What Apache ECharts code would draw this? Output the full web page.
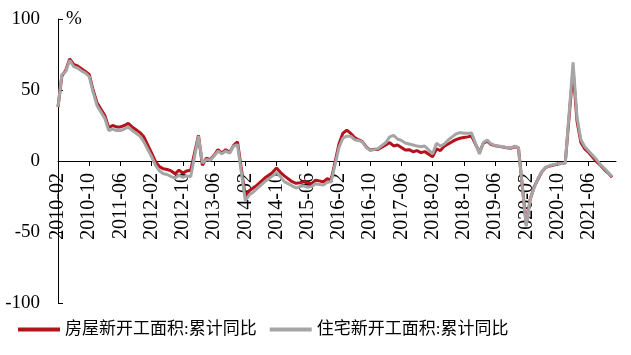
<!DOCTYPE html>
<html>
<head>
<meta charset="utf-8">
<script src="https://cdn.jsdelivr.net/npm/echarts@6/dist/echarts.min.js"></script>
<style>
  html, body { margin: 0; padding: 0; background: #fff; }
  #main { width: 631px; height: 355px; }
</style>
</head>
<body>
<div id="main"></div>
<script>
// 月份：2010-02 到 2022-01，1月无数据(1-2月合并公布)
var months = [];
for (var y = 2010; y <= 2022; y++) {
  for (var m = 1; m <= 12; m++) {
    if (y == 2010 && m < 2) continue;
    if (y == 2022 && m > 1) break;
    months.push(y + '-' + (m < 10 ? '0' + m : m));
  }
}

var seriesNames = ['房屋新开工面积:累计同比', '住宅新开工面积:累计同比'];
var yTicks = [-100, -50, 0, 50, 100];

// 房屋新开工面积:累计同比 (%)
var houseYoY = [
  38, 60, 64, 72, 68, 67, 65, 63, 61, 50, 41,                 // 2010 (2-12月)
  null, 32, 23.5, 25, 24, 24, 25, 26.5, 24, 22, 20, 17,       // 2011
  null, 5.5, -0.5, -4, -5.5, -6, -7, -9, -6.5, -8.5, -7, -6.5,  // 2012
  null, 18, -3, 2, 1, 4, 8, 5.5, 8, 6, 11, 13.5,              // 2013
  null, -25, -21, -19, -17, -14.5, -12, -10, -8, -5, -8, -10.5, // 2014
  null, -14.6, -15.7, -15.3, -14.6, -15.5, -16, -13.5, -14, -14.8, -12.5, -13.5, // 2015
  null, 12, 19.5, 21.8, 19.5, 16.5, 15, 13.6, 10, 7.7, 8.2, 8.1, // 2016
  null, 11.3, 13, 10.6, 11.3, 9.5, 7.7, 8, 6.5, 7.3, 5.9, 6.6,  // 2017
  null, 3, 8.5, 7.3, 10.5, 12, 13.6, 15, 16, 16.5, 17, 17.6,    // 2018
  null, 6, 12.5, 14, 11.5, 10.8, 10.3, 9.8, 9.3, 9, 10, 9.3,    // 2019
  null, -44.9, -27, -18.4, -12.8, -7.6, -4.5, -3.6, -2.8, -2.2, -1.8, -1.2, // 2020
  null, 64.3, 28.2, 13, 8.5, 6, 2.8, -0.5, -3, -6, -8.5, -11.4, // 2021
  null                                                          // 2022-01
];

// 住宅新开工面积:累计同比 (%)
var resiYoY = [
  38, 61, 63, 71, 66.5, 65.5, 63.5, 62, 59.5, 48.5, 39,
  null, 30, 21.5, 22.5, 21.5, 21.5, 22.5, 24, 21.5, 19.5, 17.5, 13.5,
  null, 3, -3, -7, -9, -9.5, -11, -12, -10, -11.5, -10.5, -11,
  null, 17.5, -1.5, 1, 0.5, 3.5, 7, 5, 7, 5.5, 10.5, 11.5,
  null, -28, -24, -22, -19.5, -17, -14.5, -12.5, -10.5, -8, -11, -14.5,
  null, -17.5, -19, -18, -17.5, -18.5, -18, -16, -16.5, -17, -15, -14.6,
  null, 9.5, 16, 17.5, 17.5, 15, 14.5, 13.5, 9.5, 7.5, 8, 8.7,
  null, 13, 17, 18, 15.5, 14.5, 12.7, 12, 11.3, 10.5, 10, 10.5,
  null, 5, 12.5, 10.5, 12, 14.8, 17, 19, 20, 19.5, 19.5, 19.7,
  null, 5, 13, 14.8, 12, 11, 10.5, 10, 9.5, 9, 10.5, 9.5,
  null, -46, -27, -19, -12.5, -7.3, -4.5, -3.2, -2.5, -2, -1.7, -1.5,
  null, 69.5, 31, 15, 10, 7, 4, 1, -2.5, -5.2, -8, -10.9,
  null
];

var chart = echarts.init(document.getElementById('main'));

var serif = '"Liberation Serif", "Times New Roman", serif';

var option = {
  backgroundColor: '#fff',
  animation: false,
  color: ['#B5121B', '#A5A5A5'],
  grid: [
    // 主绘图区
    { left: 58, right: 15, top: 19, bottom: 52, outerBoundsMode: 'none' },
    // 上半部分，下边界正好是 0 线，用来放横轴标签
    { left: 58, right: 15, top: 19, bottom: 194, outerBoundsMode: 'none' }
  ],
  legend: {
    data: seriesNames,
    left: 13,
    top: 316,
    icon: 'rect',
    itemWidth: 42,
    itemHeight: 4,
    itemGap: 13,
    textStyle: {
      fontFamily: '"Liberation Serif", "Noto Sans CJK SC"',
      fontSize: 17,
      color: '#000'
    }
  },
  graphic: [{
    type: 'text',
    left: 66,
    top: 10,
    style: { text: '%', font: '19px ' + serif, fill: '#000' }
  }],
  xAxis: [{
    gridIndex: 0,
    type: 'category',
    data: months,
    boundaryGap: false,
    axisLine: { show: false },
    axisTick: { show: false },
    axisLabel: { show: false },
    splitLine: { show: false }
  }, {
    gridIndex: 1,
    type: 'category',
    data: months,
    boundaryGap: false,
    axisLine: { lineStyle: { color: '#000', width: 1 } },
    axisTick: { interval: 7, length: 5, lineStyle: { color: '#000' } },
    axisLabel: {
      interval: 7,
      rotate: 90,
      margin: 12,
      fontFamily: serif,
      fontSize: 20,
      color: '#000'
    },
    splitLine: { show: false }
  }],
  yAxis: [{
    gridIndex: 0,
    type: 'value',
    min: yTicks[0],
    max: yTicks[yTicks.length - 1],
    interval: 50,
    axisLine: { show: true, lineStyle: { color: '#000', width: 1 } },
    axisTick: { show: true, inside: true, length: 5, lineStyle: { color: '#000' } },
    axisLabel: { margin: 18, fontFamily: serif, fontSize: 19, color: '#000' },
    splitLine: { show: false }
  }, {
    gridIndex: 1,
    type: 'value',
    show: false
  }],
  series: [{
    name: seriesNames[0],
    type: 'line',
    data: houseYoY,
    showSymbol: false,
    connectNulls: true,
    z: 10,
    lineStyle: { width: 3 }
  }, {
    name: seriesNames[1],
    type: 'line',
    data: resiYoY,
    showSymbol: false,
    connectNulls: true,
    z: 11,
    lineStyle: { width: 3 }
  }]
};

chart.setOption(option);
</script>
</body>
</html>
